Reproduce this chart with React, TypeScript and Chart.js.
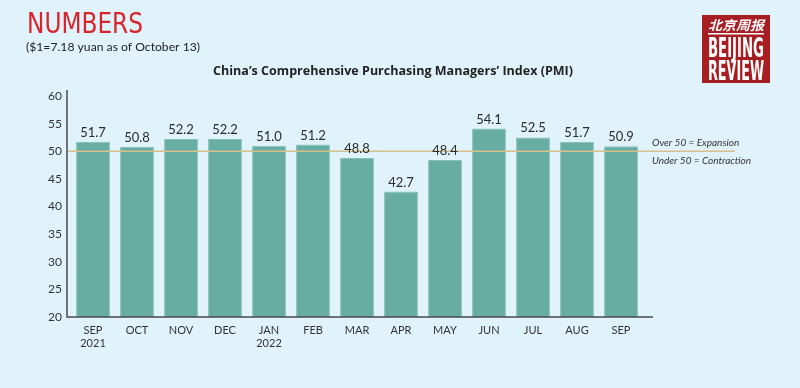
import React, { useEffect, useRef } from "react";
import { Chart, registerables } from "chart.js";

Chart.register(...registerables);

const categories: (string | string[])[] = [
  ["SEP", "2021"], "OCT", "NOV", "DEC", ["JAN", "2022"], "FEB", "MAR", "APR", "MAY", "JUN", "JUL", "AUG", "SEP",
];
const pmiValues = [51.7, 50.8, 52.2, 52.2, 51.0, 51.2, 48.8, 42.7, 48.4, 54.1, 52.5, 51.7, 50.9];
const yTicks = [20, 25, 30, 35, 40, 45, 50, 55, 60];
const threshold = 50;

const BG = "#e1f3fa";
const BAR = "#68ada2";

function fitText(ctx: CanvasRenderingContext2D, text: string, x: number, y: number, w: number) {
  const m = ctx.measureText(text).width;
  ctx.save();
  ctx.translate(x, y);
  ctx.scale(w / m, 1);
  ctx.fillText(text, 0, 0);
  ctx.restore();
}

const decorPlugin = {
  id: "decor",
  beforeDraw(chart: any) {
    const ctx = chart.ctx as CanvasRenderingContext2D;
    ctx.save();
    ctx.fillStyle = BG;
    ctx.fillRect(0, 0, chart.width, chart.height);
    ctx.restore();
  },
  afterDatasetsDraw(chart: any) {
    const ctx = chart.ctx as CanvasRenderingContext2D;
    const y = chart.scales.y;
    const area = chart.chartArea;
    ctx.save();
    // threshold line
    const ty = y.getPixelForValue(threshold);
    ctx.strokeStyle = "#d5bf8e";
    ctx.lineWidth = 1.5;
    ctx.beginPath();
    ctx.moveTo(area.left - 4, ty);
    ctx.lineTo(735, ty);
    ctx.stroke();
    // axes
    ctx.strokeStyle = "#4a4a4a";
    ctx.lineWidth = 1.5;
    ctx.beginPath();
    ctx.moveTo(67, 90);
    ctx.lineTo(67, area.bottom);
    ctx.lineTo(653, area.bottom);
    ctx.stroke();
    // value labels
    const meta = chart.getDatasetMeta(0);
    ctx.fillStyle = "#2b2b2b";
    ctx.font = "13px Lato";
    ctx.textAlign = "center";
    ctx.textBaseline = "alphabetic";
    meta.data.forEach((bar: any, i: number) => {
      ctx.fillText(pmiValues[i].toFixed(1), bar.x, bar.y - 5);
    });
    // legend notes
    ctx.font = "italic 10px Lato";
    ctx.textAlign = "left";
    ctx.fillStyle = "#333";
    ctx.fillText("Over 50 = Expansion", 652, ty - 5);
    ctx.fillText("Under 50 = Contraction", 652, ty + 13);
    // headers
    ctx.fillStyle = "#d8242c";
    ctx.font = "28px 'Liberation Sans Narrow', 'DejaVu Sans Condensed', sans-serif";
    ctx.textBaseline = "alphabetic";
    fitText(ctx, "NUMBERS", 27, 33, 116);
    ctx.fillStyle = "#222";
    ctx.font = "12px Lato";
    fitText(ctx, "($1=7.18 yuan as of October 13)", 26, 51, 174);
    ctx.font = "bold 12.5px 'Open Sans'";
    ctx.fillStyle = "#222";
    fitText(ctx, "China\u2019s Comprehensive Purchasing Managers\u2019 Index (PMI)", 213, 75, 360);
    // logo
    ctx.fillStyle = "#a71e22";
    ctx.fillRect(702, 15, 68, 68);
    ctx.fillStyle = "#ffffff";
    ctx.textAlign = "left";
    ctx.font = "italic bold 13px 'Noto Sans CJK SC'";
    fitText(ctx, "北京周报", 708, 30, 56);
    ctx.fillRect(708, 33, 56, 1.5);
    ctx.font = "bold 26px 'Liberation Sans Narrow', 'DejaVu Sans Condensed', sans-serif";
    fitText(ctx, "BEIJING", 708, 57, 56);
    fitText(ctx, "REVIEW", 708, 80, 56);
    ctx.restore();
  },
};

export default function App() {
  const ref = useRef<HTMLCanvasElement | null>(null);
  useEffect(() => {
    if (!ref.current) return;
    const chart = new Chart(ref.current, {
      type: "bar",
      data: {
        labels: categories as any,
        datasets: [
          {
            data: pmiValues,
            backgroundColor: BAR,
            borderColor: "#85c0b5",
            borderWidth: 1,
            categoryPercentage: 1,
            barPercentage: 0.77,
          },
        ],
      },
      plugins: [decorPlugin],
      options: {
        animation: false,
        responsive: false,
        maintainAspectRatio: false,
        layout: { padding: { left: 31, right: 157, top: 96, bottom: 31 } },
        plugins: { legend: { display: false }, tooltip: { enabled: false }, title: { display: false } },
        scales: {
          x: {
            grid: { display: false, drawTicks: false },
            border: { display: false },
            ticks: { color: "#333", font: { family: "Lato", size: 11 }, padding: 7, maxRotation: 0, autoSkip: false },
            afterFit: (s: any) => { s.height = 40; },
          },
          y: {
            min: 20,
            max: 60,
            afterBuildTicks: (s: any) => { s.ticks = yTicks.map((v) => ({ value: v })); },
            grid: { display: false, drawTicks: false },
            border: { display: false },
            ticks: { color: "#333", font: { family: "Lato", size: 12 }, padding: 9 },
            afterFit: (s: any) => { s.width = 40; },
          },
        },
      },
    });
    return () => chart.destroy();
  }, []);
  return (
    <div style={{ position: "fixed", left: 0, top: 0, width: 800, height: 388, background: BG }}>
      <canvas ref={ref} width={800} height={388} style={{ width: 800, height: 388, display: "block" }} />
    </div>
  );
}
